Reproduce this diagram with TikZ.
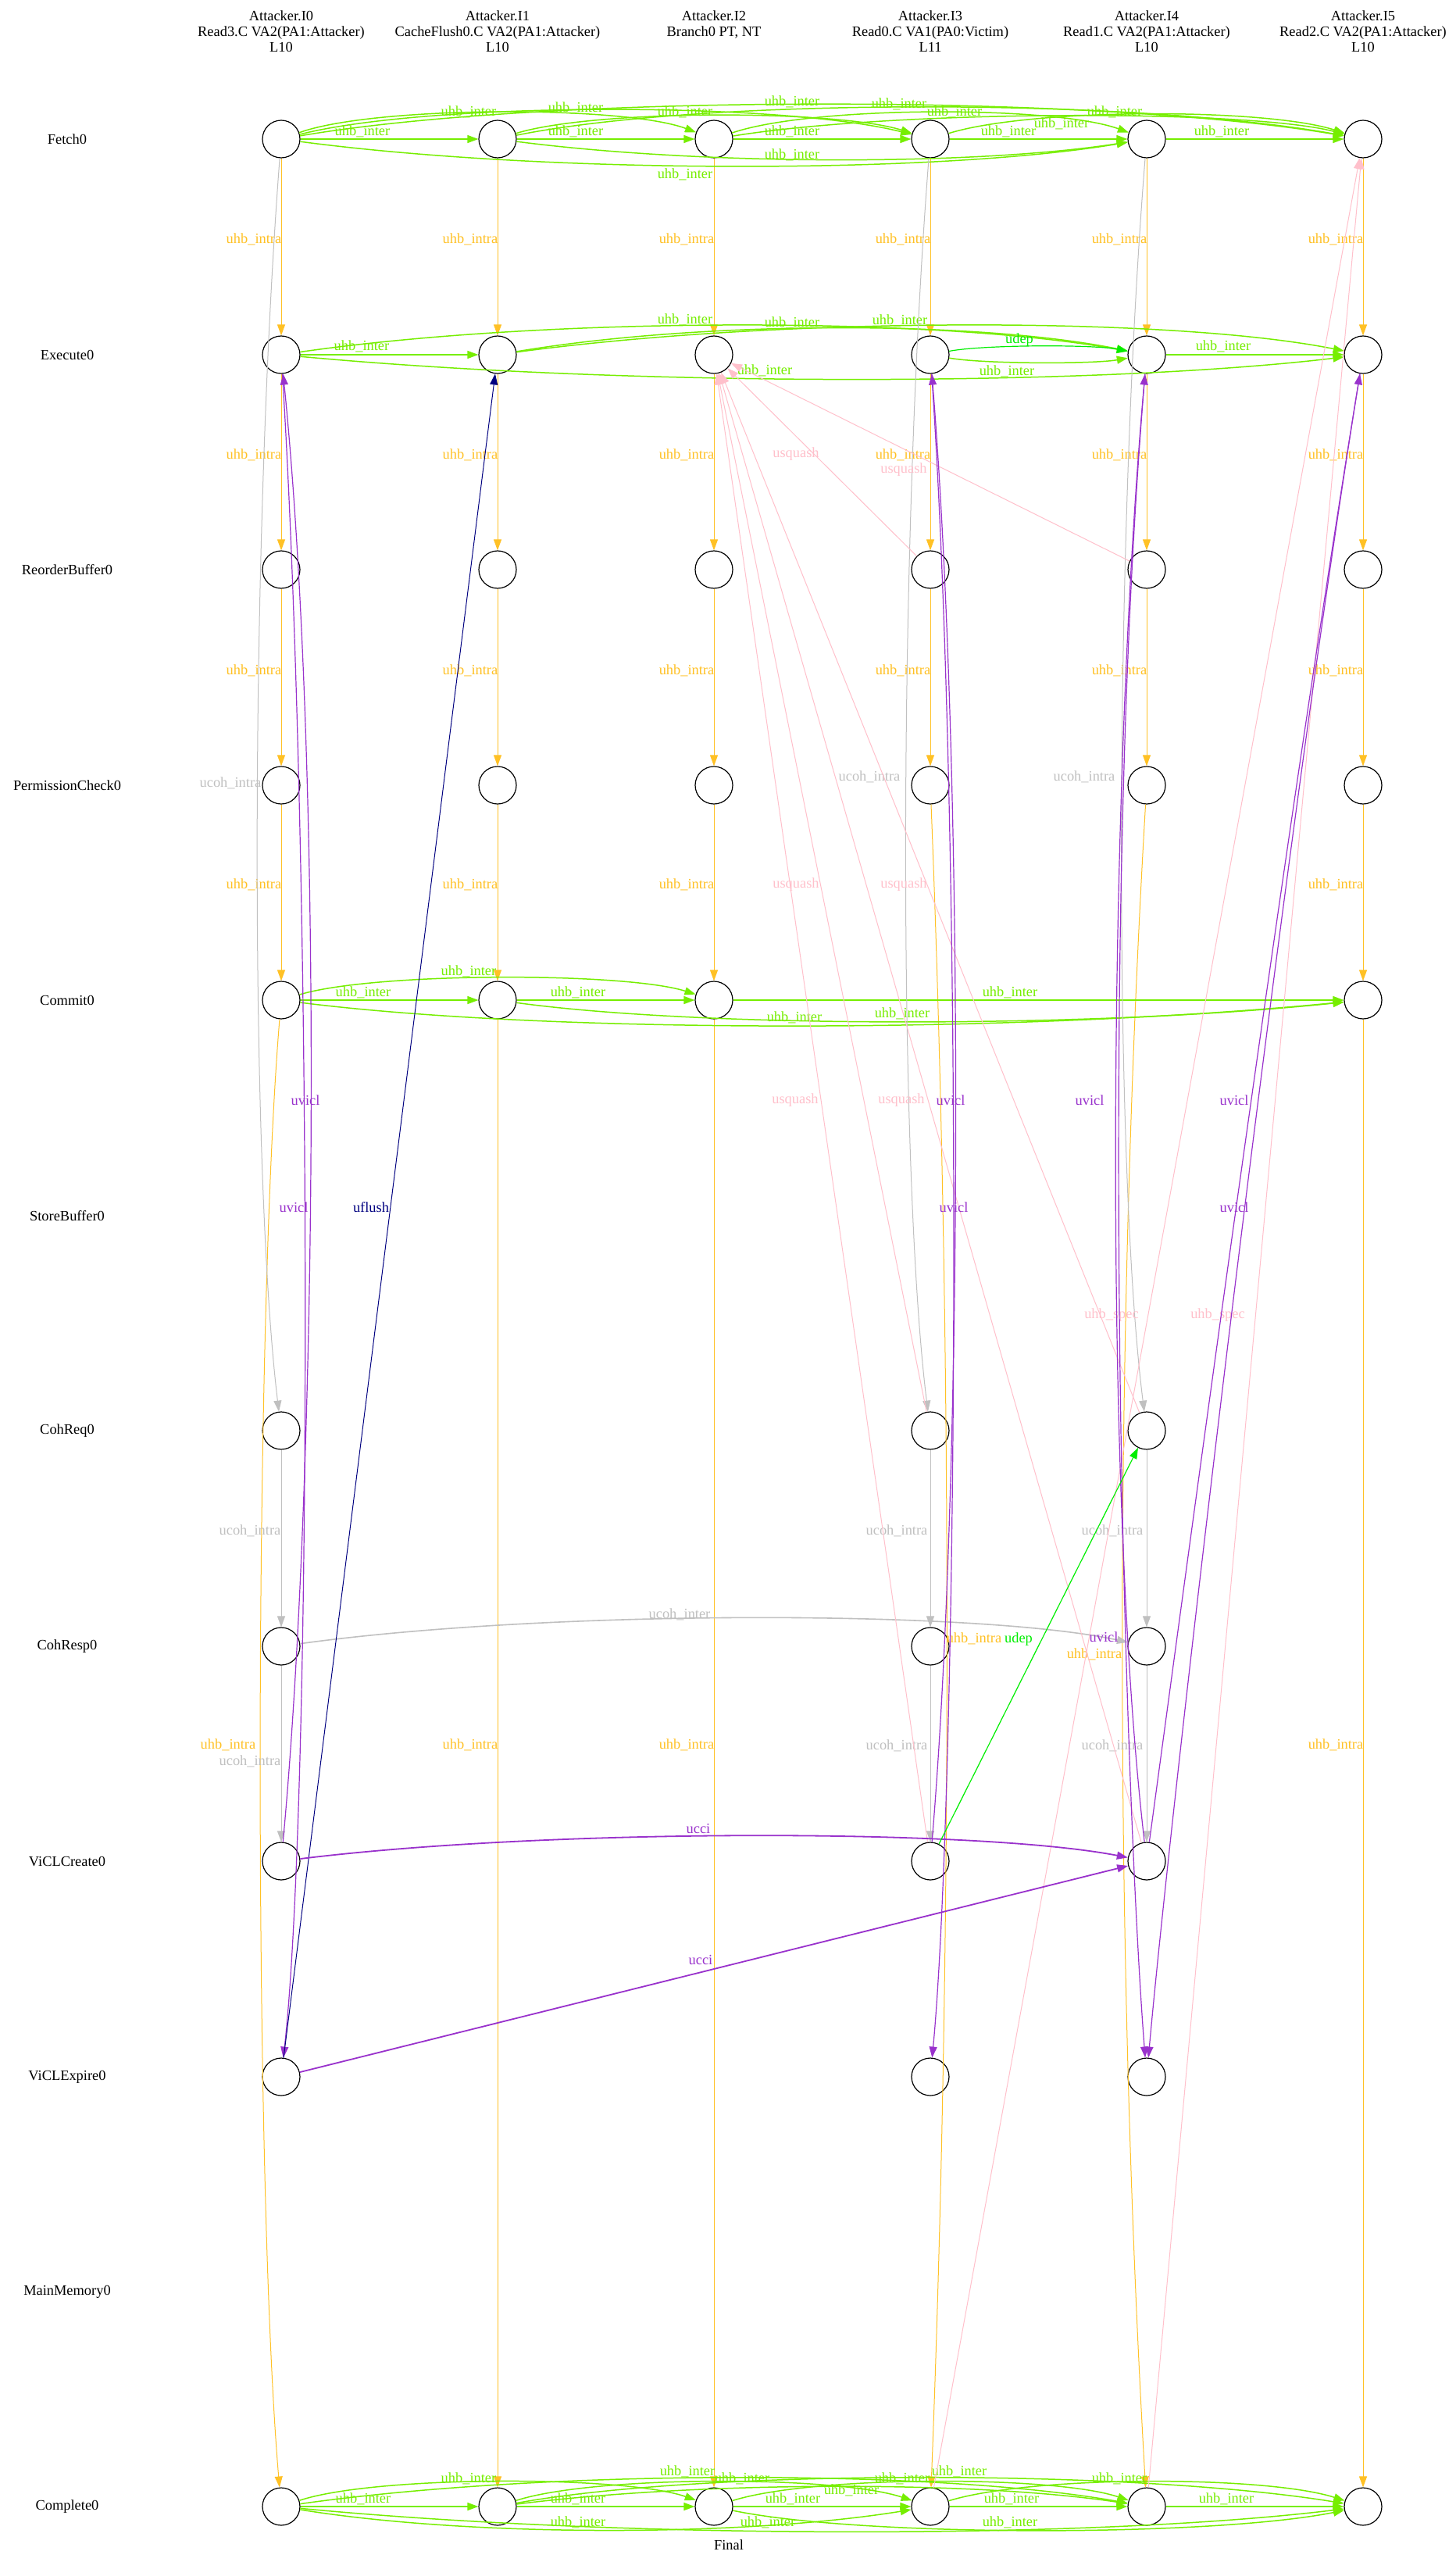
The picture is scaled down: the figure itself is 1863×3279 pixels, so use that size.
\documentclass[tikz,border=0pt]{standalone}
\usepackage{fontspec}
\setmainfont{Liberation Serif}
\usetikzlibrary{arrows.meta}
\definecolor{hbgreen}{RGB}{118,238,0}
\definecolor{depgreen}{RGB}{0,238,0}
\definecolor{hborange}{RGB}{255,193,37}
\definecolor{cohgray}{RGB}{192,192,192}
\definecolor{sqpink}{RGB}{255,192,203}
\definecolor{viclpurple}{RGB}{153,50,204}
\definecolor{flushnavy}{RGB}{0,0,128}
\begin{document}
\begin{tikzpicture}[x=0.5pt,y=-0.5pt,
		txt/.style={inner sep=0pt,font=\fontsize{9.2}{10}\selectfont},
		hdr/.style={txt,align=center,anchor=north},
		ev/.style={circle,draw=black,line width=0.6pt,minimum size=24pt,inner sep=0pt},
		headtip/.style={-{Triangle[length=7pt,width=5pt]}},
		hbinter/.style={draw=hbgreen,line width=0.75pt,headtip},
		hbintra/.style={draw=hborange,line width=0.5pt,headtip},
		cohintra/.style={draw=cohgray,line width=0.5pt,headtip},
		cohinter/.style={draw=cohgray,line width=0.8pt,headtip},
		squash/.style={draw=sqpink,line width=0.5pt,headtip},
		vicl/.style={draw=viclpurple,line width=0.6pt,headtip},
		cci/.style={draw=viclpurple,line width=0.9pt,headtip},
		flushe/.style={draw=flushnavy,line width=0.5pt,headtip},
		depe/.style={draw=depgreen,line width=0.6pt,headtip},
		lhbinter/.style={txt,text=hbgreen},
		lhbintra/.style={txt,text=hborange},
		lcoh/.style={txt,text=cohgray},
		lsquash/.style={txt,text=sqpink},
		lvicl/.style={txt,text=viclpurple},
		lflush/.style={txt,text=flushnavy},
		ldep/.style={txt,text=depgreen}]
	\useasboundingbox (0,0) rectangle (1863,3279);
	\fill[white] (0,0) rectangle (1863,3279);

	\node[hdr] (head0) at (360,13) {Attacker.I0\\Read3.C VA2(PA1:Attacker)\\L10};
	\node[hdr] (head1) at (637,13) {Attacker.I1\\CacheFlush0.C VA2(PA1:Attacker)\\L10};
	\node[hdr] (head2) at (914,13) {Attacker.I2\\Branch0 PT, NT};
	\node[hdr] (head3) at (1191,13) {Attacker.I3\\Read0.C VA1(PA0:Victim)\\L11};
	\node[hdr] (head4) at (1468,13) {Attacker.I4\\Read1.C VA2(PA1:Attacker)\\L10};
	\node[hdr] (head5) at (1745,13) {Attacker.I5\\Read2.C VA2(PA1:Attacker)\\L10};

	\foreach \t/\y in {Fetch0/178,Execute0/454,ReorderBuffer0/729,PermissionCheck0/1005,Commit0/1280,StoreBuffer0/1556,CohReq0/1831,CohResp0/2107,ViCLCreate0/2382,ViCLExpire0/2658,MainMemory0/2933,Complete0/3208}
		\node[txt] (row-\t) at (86,\y) {\t};

	\foreach \r/\y in {fetch/178,exec/454,rob/729,pc/1005,compl/3208}
		\foreach \c in {0,...,5}
			\node[ev] (\r\c) at ({360+277*\c},\y) {};
	\foreach \c in {0,1,2,5}
		\node[ev] (commit\c) at ({360+277*\c},1280) {};
	\foreach \r/\y in {creq/1831,cresp/2107,vcc/2382,vce/2658}
		\foreach \c in {0,3,4}
			\node[ev] (\r\c) at ({360+277*\c},\y) {};

	\node[txt] (final) at (933,3257) {Final};

	\foreach \c in {0,...,5}{
		\draw[hbintra] (fetch\c) -- (exec\c) node[lhbintra] at ({325+277*\c},306) {uhb\_intra};
		\draw[hbintra] (exec\c) -- (rob\c) node[lhbintra] at ({325+277*\c},582) {uhb\_intra};
		\draw[hbintra] (rob\c) -- (pc\c) node[lhbintra] at ({325+277*\c},858) {uhb\_intra};
	}
	\foreach \c in {0,1,2,5}
		\draw[hbintra] (pc\c) -- (commit\c) node[lhbintra] at ({325+277*\c},1132) {uhb\_intra};
	\foreach \c in {1,2,5}
		\draw[hbintra] (commit\c) -- (compl\c) node[lhbintra] at ({325+277*\c},2233) {uhb\_intra};
	\draw[hbintra] (commit0) .. controls (325,1700) and (325,2800) .. (compl0) node[lhbintra] at (292,2233) {uhb\_intra};
	\draw[hbintra] (pc3) .. controls (1219,1700) and (1219,2500) .. (compl3) node[lhbintra] at (1247,2097) {uhb\_intra};
	\draw[hbintra] (pc4) .. controls (1427,1700) and (1427,2500) .. (compl4) node[lhbintra] at (1401,2117) {uhb\_intra};

	\draw[hbinter] (fetch0) -- (fetch1) node[lhbinter] at (464,168) {uhb\_inter};
	\draw[hbinter] (fetch1) -- (fetch2) node[lhbinter] at (737,168) {uhb\_inter};
	\draw[hbinter] (fetch2) -- (fetch3) node[lhbinter] at (1014,168) {uhb\_inter};
	\draw[hbinter] (fetch3) -- (fetch4) node[lhbinter] at (1291,168) {uhb\_inter};
	\draw[hbinter] (fetch4) -- (fetch5) node[lhbinter] at (1564,168) {uhb\_inter};
	\draw[hbinter] (fetch0) .. controls (480,135) and (800,135) .. (fetch2) node[lhbinter] at (600,143) {uhb\_inter};
	\draw[hbinter] (fetch0) .. controls (550,130) and (1000,130) .. (fetch3) node[lhbinter] at (737,138) {uhb\_inter};
	\draw[hbinter] (fetch1) .. controls (760,140) and (1070,140) .. (fetch3) node[lhbinter] at (877,143) {uhb\_inter};
	\draw[hbinter] (fetch0) .. controls (700,120) and (1400,120) .. (fetch5) node[lhbinter] at (1014,130) {uhb\_inter};
	\draw[hbinter] (fetch1) .. controls (900,125) and (1450,125) .. (fetch5) node[lhbinter] at (1151,133) {uhb\_inter};
	\draw[hbinter] (fetch2) .. controls (1040,135) and (1350,135) .. (fetch4) node[lhbinter] at (1222,143) {uhb\_inter};
	\draw[hbinter] (fetch2) .. controls (1150,140) and (1600,140) .. (fetch5) node[lhbinter] at (1359,158) {uhb\_inter};
	\draw[hbinter] (fetch3) .. controls (1320,138) and (1620,138) .. (fetch5) node[lhbinter] at (1427,143) {uhb\_inter};
	\draw[hbinter] (fetch0) .. controls (700,223) and (1200,223) .. (fetch4) node[lhbinter] at (877,223) {uhb\_inter};
	\draw[hbinter] (fetch1) .. controls (900,212) and (1250,212) .. (fetch4) node[lhbinter] at (1014,198) {uhb\_inter};

	\draw[hbinter] (exec0) -- (exec1) node[lhbinter] at (463,443) {uhb\_inter};
	\draw[hbinter] (exec0) .. controls (700,405) and (1200,405) .. (exec4) node[lhbinter] at (877,409) {uhb\_inter};
	\draw[hbinter] (exec1) .. controls (900,410) and (1250,410) .. (exec4) node[lhbinter] at (1014,413) {uhb\_inter};
	\draw[hbinter] (exec1) .. controls (1000,405) and (1500,405) .. (exec5) node[lhbinter] at (1152,410) {uhb\_inter};
	\draw[hbinter] (exec0) .. controls (800,495) and (1400,495) .. (exec5) node[lhbinter] at (979,474) {uhb\_inter};
	\draw[hbinter] (exec3) .. controls (1260,466) and (1400,466) .. (exec4) node[lhbinter] at (1289,475) {uhb\_inter};
	\draw[hbinter] (exec4) -- (exec5) node[lhbinter] at (1566,443) {uhb\_inter};
	\draw[depe] (exec3) .. controls (1260,441) and (1400,441) .. (exec4) node[ldep] at (1305,435) {udep};

	\draw[hbinter] (commit0) -- (commit1) node[lhbinter] at (465,1270) {uhb\_inter};
	\draw[hbinter] (commit1) -- (commit2) node[lhbinter] at (740,1270) {uhb\_inter};
	\draw[hbinter] (commit2) -- (commit5) node[lhbinter] at (1293,1270) {uhb\_inter};
	\draw[hbinter] (commit0) .. controls (480,1244) and (800,1244) .. (commit2) node[lhbinter] at (600,1243) {uhb\_inter};
	\draw[hbinter] (commit1) .. controls (900,1316) and (1400,1316) .. (commit5) node[lhbinter] at (1017,1302) {uhb\_inter};
	\draw[hbinter] (commit0) .. controls (700,1323) and (1300,1323) .. (commit5) node[lhbinter] at (1155,1297) {uhb\_inter};

	\draw[hbinter] (compl0) -- (compl1) node[lhbinter] at (465,3198) {uhb\_inter};
	\draw[hbinter] (compl1) -- (compl2) node[lhbinter] at (740,3198) {uhb\_inter};
	\draw[hbinter] (compl2) -- (compl3) node[lhbinter] at (1015,3198) {uhb\_inter};
	\draw[hbinter] (compl3) -- (compl4) node[lhbinter] at (1295,3198) {uhb\_inter};
	\draw[hbinter] (compl4) -- (compl5) node[lhbinter] at (1570,3198) {uhb\_inter};
	\draw[hbinter] (compl0) .. controls (480,3168) and (800,3168) .. (compl2) node[lhbinter] at (600,3172) {uhb\_inter};
	\draw[hbinter] (compl0) .. controls (700,3160) and (1200,3160) .. (compl4) node[lhbinter] at (880,3163) {uhb\_inter};
	\draw[hbinter] (compl1) .. controls (760,3168) and (1070,3168) .. (compl3) node[lhbinter] at (950,3172) {uhb\_inter};
	\draw[hbinter] (compl1) .. controls (900,3175) and (1250,3175) .. (compl4) node[lhbinter] at (1090,3187) {uhb\_inter};
	\draw[hbinter] (compl2) .. controls (1040,3168) and (1350,3168) .. (compl4) node[lhbinter] at (1155,3172) {uhb\_inter};
	\draw[hbinter] (compl1) .. controls (900,3160) and (1450,3160) .. (compl5) node[lhbinter] at (1228,3163) {uhb\_inter};
	\draw[hbinter] (compl3) .. controls (1320,3168) and (1620,3168) .. (compl5) node[lhbinter] at (1433,3172) {uhb\_inter};
	\draw[hbinter] (compl0) .. controls (600,3247) and (950,3247) .. (compl3) node[lhbinter] at (740,3228) {uhb\_inter};
	\draw[hbinter] (compl0) .. controls (800,3250) and (1400,3250) .. (compl5) node[lhbinter] at (983,3228) {uhb\_inter};
	\draw[hbinter] (compl2) .. controls (1100,3247) and (1550,3247) .. (compl5) node[lhbinter] at (1293,3228) {uhb\_inter};

	\draw[cohintra] (fetch0) .. controls (320,700) and (320,1500) .. (creq0) node[lcoh] at (295,1002) {ucoh\_intra};
	\draw[cohintra] (fetch3) .. controls (1150,700) and (1150,1500) .. (creq3) node[lcoh] at (1113,994) {ucoh\_intra};
	\draw[cohintra] (fetch4) .. controls (1426,700) and (1426,1500) .. (creq4) node[lcoh] at (1388,994) {ucoh\_intra};
	\draw[cohintra] (creq0) -- (cresp0) node[lcoh] at (320,1959) {ucoh\_intra};
	\draw[cohintra] (creq3) -- (cresp3) node[lcoh] at (1148,1959) {ucoh\_intra};
	\draw[cohintra] (creq4) -- (cresp4) node[lcoh] at (1424,1959) {ucoh\_intra};
	\draw[cohintra] (cresp0) -- (vcc0) node[lcoh] at (320,2254) {ucoh\_intra};
	\draw[cohintra] (cresp3) -- (vcc3) node[lcoh] at (1148,2234) {ucoh\_intra};
	\draw[cohintra] (cresp4) -- (vcc4) node[lcoh] at (1424,2234) {ucoh\_intra};
	\draw[cohinter] (cresp0) .. controls (700,2060) and (1250,2060) .. (cresp4) node[lcoh] at (870,2066) {ucoh\_inter};

	\draw[squash] (rob3) -- (exec2) node[lsquash] at (1019,581) {usquash};
	\draw[squash] (rob4) -- (exec2) node[lsquash] at (1157,601) {usquash};
	\draw[squash] (creq3) -- (exec2) node[lsquash] at (1019,1132) {usquash};
	\draw[squash] (creq4) -- (exec2) node[lsquash] at (1157,1132) {usquash};
	\draw[squash] (vcc3) -- (exec2) node[lsquash] at (1018,1408) {usquash};
	\draw[squash] (vcc4) -- (exec2) node[lsquash] at (1154,1408) {usquash};
	\draw[squash] (compl3) -- (fetch5) node[lsquash] at (1423,1683) {uhb\_spec};
	\draw[squash] (compl4) -- (fetch5) node[lsquash] at (1559,1683) {uhb\_spec};

	\draw[vicl] (vcc0) .. controls (405,1900) and (415,1000) .. (exec0) node[lvicl] at (391,1408) {uvicl};
	\draw[vicl] (exec0) .. controls (400,1100) and (400,2300) .. (vce0) node[lvicl] at (376,1545) {uvicl};
	\draw[vicl] (vcc3) .. controls (1232,1900) and (1235,1000) .. (exec3) node[lvicl] at (1217,1408) {uvicl};
	\draw[vicl] (exec3) .. controls (1235,1100) and (1225,2300) .. (vce3) node[lvicl] at (1221,1545) {uvicl};
	\draw[vicl] (vcc4) .. controls (1412,1900) and (1420,1000) .. (exec4) node[lvicl] at (1395,1408) {uvicl};
	\draw[vicl] (exec4) .. controls (1405,1200) and (1440,2300) .. (vce4) node[lvicl] at (1413,2095) {uvicl};
	\draw[vicl] (vcc4) .. controls (1520,2000) and (1640,1100) .. (exec5) node[lvicl] at (1580,1408) {uvicl};
	\draw[vicl] (exec5) .. controls (1640,1100) and (1500,2300) .. (vce4) node[lvicl] at (1580,1545) {uvicl};
	\draw[flushe] (vce0) -- (exec1) node[lflush] at (475,1545) {uflush};
	\draw[cci] (vcc0) .. controls (700,2340) and (1250,2340) .. (vcc4) node[lvicl] at (894,2340) {ucci};
	\draw[cci] (vce0) -- (vcc4) node[lvicl] at (897,2508) {ucci};
	\draw[depe] (vcc3) -- (creq4) node[ldep] at (1304,2098) {udep};
\end{tikzpicture}
\end{document}
